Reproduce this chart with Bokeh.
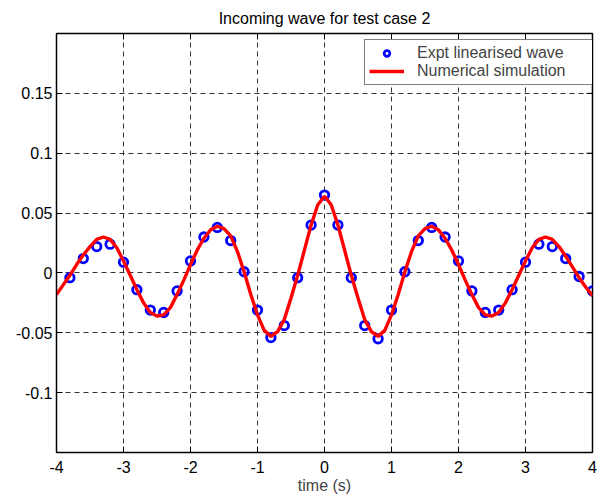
from bokeh.plotting import figure
from bokeh.models import Range1d, FixedTicker, Legend, LegendItem
from bokeh.embed import file_html
from bokeh.resources import INLINE

# ---- data ----
title_text = "Incoming wave for test case 2"
expt_t = [-3.8, -3.6, -3.4, -3.2, -3.0, -2.8, -2.6, -2.4, -2.2, -2.0,
          -1.8, -1.6, -1.4, -1.2, -1.0, -0.8, -0.6, -0.4, -0.2, 0.0,
          0.2, 0.4, 0.6, 0.8, 1.0, 1.2, 1.4, 1.6, 1.8, 2.0,
          2.2, 2.4, 2.6, 2.8, 3.0, 3.2, 3.4, 3.6, 3.8, 4.0]
expt_eta = [-0.004, 0.012, 0.022, 0.024, 0.009, -0.014, -0.031, -0.033, -0.015, 0.010,
            0.030, 0.038, 0.027, 0.001, -0.031, -0.054, -0.044, -0.004, 0.040, 0.065,
            0.040, -0.004, -0.044, -0.055, -0.031, 0.001, 0.027, 0.038, 0.030, 0.010,
            -0.015, -0.033, -0.031, -0.014, 0.009, 0.024, 0.022, 0.012, -0.003, -0.015]

sim_t = [round(-4.0 + 0.1 * i, 1) for i in range(81)]
sim_eta = [-0.018, -0.010, -0.002, 0.007, 0.015, 0.022, 0.028, 0.030, 0.028, 0.021,
           0.010, -0.002, -0.014, -0.025, -0.033, -0.036, -0.035, -0.029, -0.018, -0.006,
           0.007, 0.019, 0.029, 0.036, 0.039, 0.037, 0.031, 0.018, 0.001, -0.018,
           -0.035, -0.048, -0.053, -0.049, -0.039, -0.021, -0.002, 0.019, 0.040, 0.057,
           0.064,
           0.057, 0.040, 0.019, -0.002, -0.021, -0.039, -0.049, -0.053, -0.048, -0.035,
           -0.018, 0.001, 0.018, 0.031, 0.037, 0.039, 0.036, 0.029, 0.019, 0.007,
           -0.006, -0.018, -0.029, -0.035, -0.036, -0.033, -0.025, -0.014, -0.002, 0.010,
           0.021, 0.028, 0.030, 0.028, 0.022, 0.014, 0.005, -0.004, -0.012, -0.019]

x_ticks = [-4, -3, -2, -1, 0, 1, 2, 3, 4]
y_ticks = [-0.1, -0.05, 0, 0.05, 0.1, 0.15]
y_tick_labels = ["-0.1", "-0.05", "0", "0.05", "0.1", "0.15"]
x_tick_labels = ["-4", "-3", "-2", "-1", "0", "1", "2", "3", "4"]
x_lim = (-4, 4)
y_lim = (-0.15, 0.2)

FONT = "Liberation Sans"
FS = "16px"

W, H = 608, 496
FL, FR, FT, FB = 56, 592, 33, 457   # frame edges in page pixels

p = figure(width=W, height=H, output_backend="svg", toolbar_location=None,
           x_range=Range1d(*x_lim), y_range=Range1d(*y_lim),
           min_border_left=FL, min_border_right=W - FR,
           min_border_top=FT, min_border_bottom=H - FB)
p.background_fill_color = "white"
p.border_fill_color = "white"
p.outline_line_color = "black"
p.outline_line_width = 1.5

p.title.text = title_text
p.title.align = "center"
p.title.text_font = FONT
p.title.text_font_size = FS
p.title.text_font_style = "normal"
p.title.text_color = "black"
p.title.standoff = 14

for ax in (p.xaxis[0], p.yaxis[0]):
    ax.major_tick_in = 6
    ax.major_tick_out = 0
    ax.minor_tick_line_color = None
    ax.major_label_text_font = FONT
    ax.major_label_text_font_size = FS
    ax.major_label_text_color = "black"
    ax.axis_line_color = "black"
    ax.major_tick_line_color = "black"

p.xaxis[0].ticker = FixedTicker(ticks=x_ticks)
p.xaxis[0].major_label_overrides = {t: l for t, l in zip(x_ticks, x_tick_labels)}
p.xaxis[0].major_label_standoff = 8
p.xaxis[0].axis_label = "time (s)"
p.xaxis[0].axis_label_text_font = FONT
p.xaxis[0].axis_label_text_font_size = FS
p.xaxis[0].axis_label_text_font_style = "normal"
p.xaxis[0].axis_label_standoff = 1

p.yaxis[0].ticker = FixedTicker(ticks=y_ticks)
p.yaxis[0].major_label_overrides = {t: l for t, l in zip(y_ticks, y_tick_labels)}
p.yaxis[0].major_label_standoff = 4

p.xgrid.ticker = FixedTicker(ticks=x_ticks)
p.ygrid.ticker = FixedTicker(ticks=y_ticks)
for g in (p.xgrid[0], p.ygrid[0]):
    g.grid_line_color = "#333333"
    g.grid_line_dash = "5 4"
    g.grid_line_width = 1

# inward ticks on the top and right edges of the box (6 px long)
tick_px = 6
dy = tick_px * (y_lim[1] - y_lim[0]) / (FB - FT)
dx = tick_px * (x_lim[1] - x_lim[0]) / (FR - FL)
p.segment(x0=x_ticks, y0=[y_lim[1]] * len(x_ticks), x1=x_ticks,
          y1=[y_lim[1] - dy] * len(x_ticks), line_color="black", line_width=1)
p.segment(x0=[x_lim[1]] * len(y_ticks), y0=y_ticks, x1=[x_lim[1] - dx] * len(y_ticks),
          y1=y_ticks, line_color="black", line_width=1)

r_line = p.line(sim_t, sim_eta, line_color="red", line_width=3.4)
r_pts = p.scatter(expt_t, expt_eta, marker="circle", size=8.5, fill_color=None,
                  line_color="blue", line_width=2.8)
p.renderers.remove(r_pts)
p.renderers.insert(0, r_pts)

legend = Legend(items=[LegendItem(label="Expt linearised wave", renderers=[r_pts]),
                       LegendItem(label="Numerical simulation", renderers=[r_line])],
                location=(308, 367), orientation="vertical")
legend.label_text_font = FONT
legend.label_text_font_size = FS
legend.border_line_color = "black"
legend.border_line_width = 1.2
legend.background_fill_alpha = 1
legend.padding = 4
legend.spacing = 0
legend.glyph_width = 35
legend.glyph_height = 14
legend.label_height = 14
legend.label_width = 183
legend.label_standoff = 13
legend.margin = 0
p.add_layout(legend, "center")

open("out.html", "w").write(file_html(p, INLINE))
